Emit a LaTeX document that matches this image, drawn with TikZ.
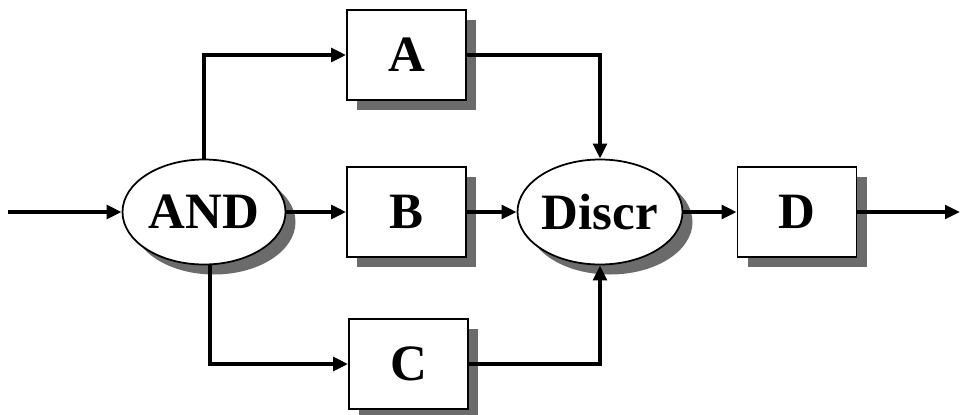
\documentclass[tikz,border=0pt]{standalone}
\usepackage{fontspec}
\setmainfont{Liberation Serif}
\usepackage{tikz}
\usetikzlibrary{shapes.geometric, arrows.meta, shadows}
\tikzset{
  shade/.style={drop shadow={shadow xshift=0.2cm, shadow yshift=-0.2cm, fill=black!58, opacity=1}},
  block/.style={rectangle, minimum width=2.38cm, minimum height=1.8cm, draw=black, line width=1pt, fill=white, shade, font=\fontsize{29}{34}\selectfont\bfseries},
  gate/.style={ellipse, minimum width=3.26cm, minimum height=2.1cm, inner sep=0pt, draw=black, line width=1pt, fill=white, shade, font=\fontsize{29}{34}\selectfont\bfseries},
  arrow/.style={line width=2.2pt, -{Triangle[length=0.3cm, width=0.27cm]}}
}

\begin{document}
\begin{tikzpicture}
\useasboundingbox (0,0) rectangle (19.22,-8.28);

\node (and) [gate] at (4.08,-4.24) {AND};
\node (a) [block] at (8.13,-1.1) {A};
\node (b) [block] at (8.13,-4.24) {B};
\node (c) [block] at (8.17,-7.28) {C};
\node (discr) [gate, minimum width=3.3cm] at (12.0,-4.24) {Discr};
\node (d) [block] at (15.94,-4.24) {D};
\coordinate (in) at (0.16,-4.24);
\coordinate (out) at (19.2,-4.24);

\draw [arrow] (in) -- (in -| and.west);
\draw [arrow] (and.north) |- (a.west);
\draw [arrow] (and) -- (b);
\draw [arrow] ([xshift=0.12cm]and.south) |- (c.west);
\draw [arrow] (a.east) -| (discr.north);
\draw [arrow] (b) -- (discr);
\draw [arrow] (c.east) -| (discr.south);
\draw [arrow] (discr) -- (d);
\draw [arrow] (d.east |- out) -- (out);

\end{tikzpicture}
\end{document}
